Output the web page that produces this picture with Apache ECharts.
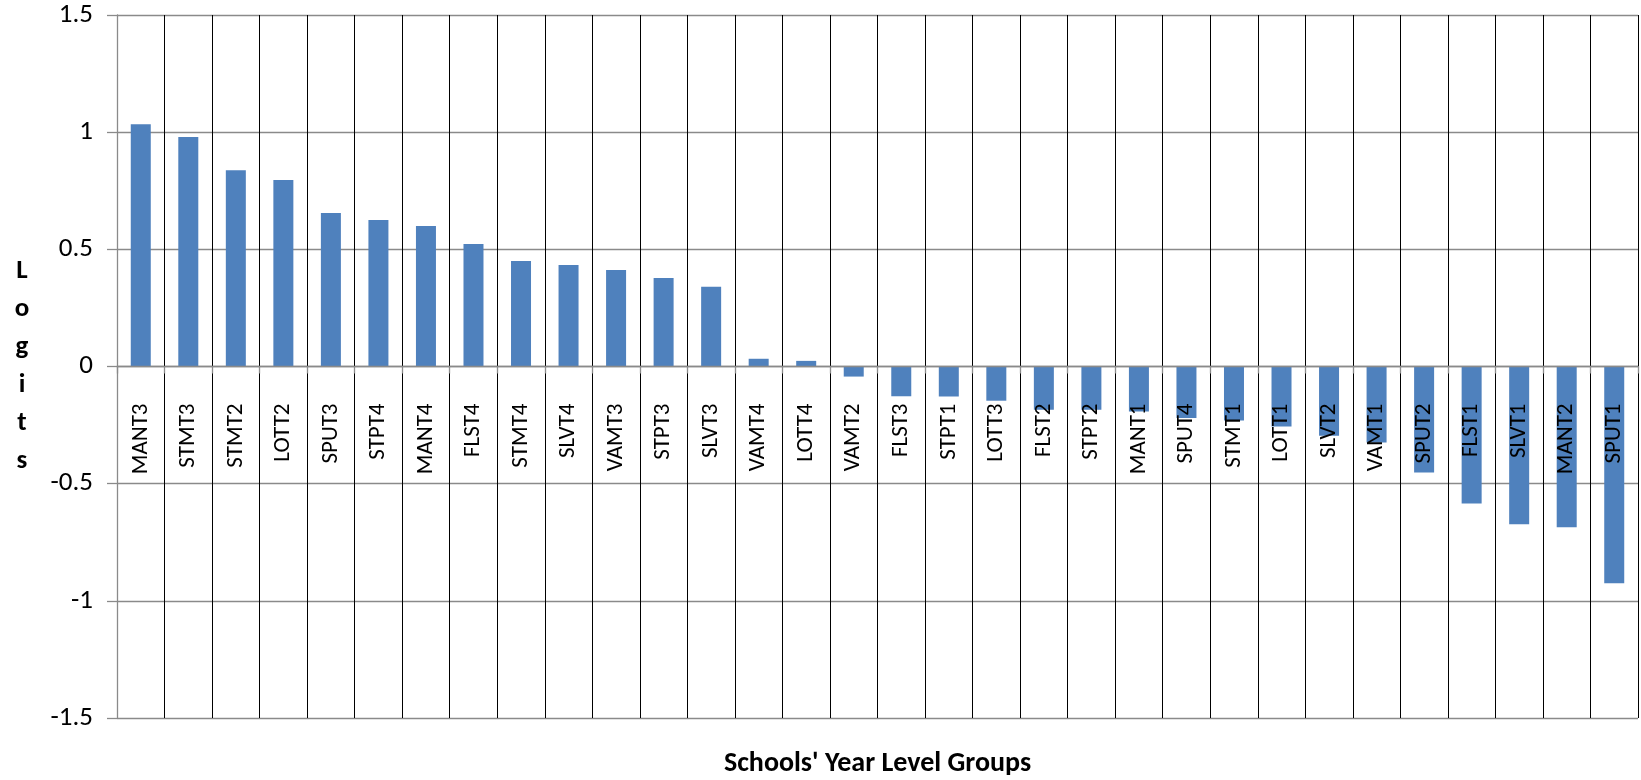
<!DOCTYPE html>
<html>
<head>
<meta charset="utf-8">
<title>Schools' Year Level Groups</title>
<script src="https://cdn.jsdelivr.net/npm/echarts@6/dist/echarts.min.js"></script>
<style>
  html, body { margin: 0; padding: 0; background: #ffffff; }
  #chart { width: 1641px; height: 780px; }
</style>
</head>
<body>
<div id="chart"></div>
<script>
// Year level groups, ordered by mean logit
const groups = [
  'MANT3', 'STMT3', 'STMT2', 'LOTT2', 'SPUT3', 'STPT4', 'MANT4', 'FLST4',
  'STMT4', 'SLVT4', 'VAMT3', 'STPT3', 'SLVT3', 'VAMT4', 'LOTT4', 'VAMT2',
  'FLST3', 'STPT1', 'LOTT3', 'FLST2', 'STPT2', 'MANT1', 'SPUT4', 'STMT1',
  'LOTT1', 'SLVT2', 'VAMT1', 'SPUT2', 'FLST1', 'SLVT1', 'MANT2', 'SPUT1'
];

const logits = [
  1.034, 0.979, 0.838, 0.796, 0.655, 0.625, 0.600, 0.523,
  0.450, 0.433, 0.412, 0.378, 0.340, 0.033, 0.024, -0.043,
  -0.127, -0.128, -0.146, -0.185, -0.185, -0.192, -0.220, -0.230,
  -0.256, -0.295, -0.324, -0.452, -0.585, -0.673, -0.686, -0.925
];

const yMin = -1.5;
const yMax = 1.5;
const yStep = 0.5;

const xTitle = "Schools' Year Level Groups";
const yTitle = 'L\no\ng\ni\nt\ns';

const FONT = 'Carlito, Lato, "DejaVu Sans", sans-serif';
const GRAY = '#8a8a8a';

const W = 1641, H = 780;
const gridLeft = 117, gridRight = 3, gridTop = 15, gridBottom = 62;
const plotH = H - gridTop - gridBottom;
// the category axis is lifted from the bottom edge to where the value axis crosses zero
const zeroOffset = -plotH * (0 - yMin) / (yMax - yMin);

const chart = echarts.init(document.getElementById('chart'), null, { renderer: 'canvas' });

chart.setOption({
  animation: false,
  backgroundColor: '#ffffff',
  textStyle: { fontFamily: FONT, color: '#000000' },
  grid: {
    left: gridLeft, right: gridRight, top: gridTop, bottom: gridBottom,
    containLabel: false,
    outerBoundsMode: 'none'
  },
  title: {
    text: xTitle,
    left: gridLeft + (W - gridLeft - gridRight) / 2,
    textAlign: 'center',
    top: 750,
    padding: 0,
    textStyle: { fontSize: 28, fontWeight: 'bold', color: '#000000', fontFamily: FONT }
  },
  xAxis: {
    // category axis on the zero line, labels drawn over the bars
    type: 'category',
    data: groups,
    position: 'bottom',
    offset: zeroOffset,
    z: 3,
    boundaryGap: true,
    axisLine: { show: true, onZero: false, lineStyle: { color: GRAY, width: 1.3 } },
    axisTick: { show: true, interval: 0, length: 7, lineStyle: { color: GRAY, width: 1.3 } },
    axisLabel: {
      interval: 0,
      rotate: 90,
      margin: 37,
      fontSize: 23,
      color: '#000000',
      fontFamily: FONT
    },
    // vertical dividers between groups; the left edge is left to the value axis line
    splitLine: {
      show: true,
      interval: function (index) { return index !== 0; },
      lineStyle: { color: '#000000', width: 1 }
    }
  },
  yAxis: {
    type: 'value',
    min: yMin,
    max: yMax,
    interval: yStep,
    z: 1,
    axisLine: { show: true, onZero: false, lineStyle: { color: GRAY, width: 1.3 } },
    axisTick: { show: true, inside: false, length: 10, lineStyle: { color: GRAY, width: 1.3 } },
    axisLabel: { margin: 24, fontSize: 27, color: '#000000', fontFamily: FONT },
    splitLine: { show: true, lineStyle: { color: GRAY, width: 1.3 } },
    name: yTitle,
    nameLocation: 'middle',
    nameRotate: 0,
    nameGap: 95,
    nameTextStyle: {
      fontSize: 27,
      fontWeight: 'bold',
      lineHeight: 38,
      align: 'center',
      verticalAlign: 'middle',
      color: '#000000',
      fontFamily: FONT
    }
  },
  series: [
    {
      type: 'bar',
      data: logits,
      z: 2,
      barWidth: 20,
      itemStyle: { color: '#4f81bd' }
    }
  ]
});
</script>
</body>
</html>
